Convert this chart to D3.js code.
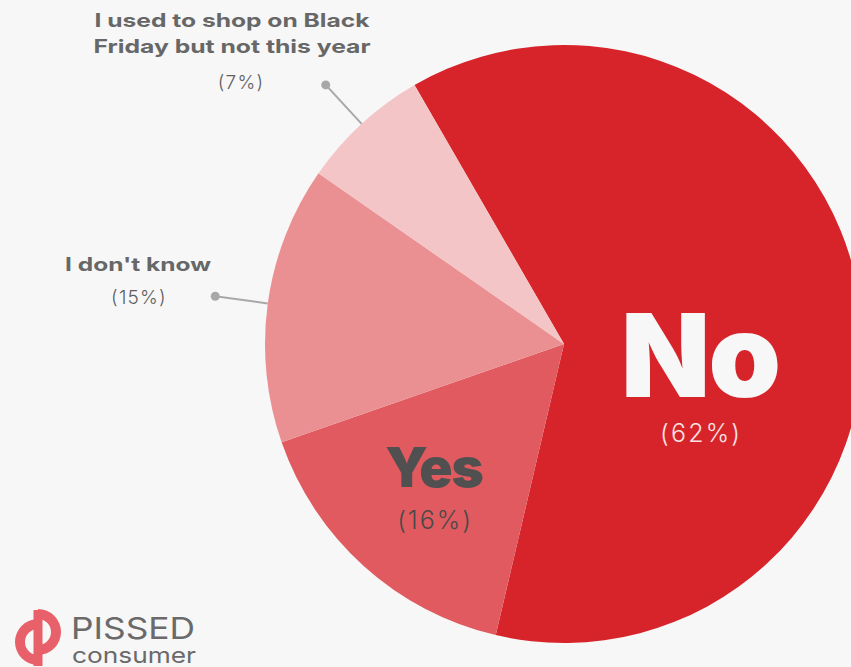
<!DOCTYPE html>
<html>
<head>
<meta charset="utf-8">
<script src="https://cdn.jsdelivr.net/npm/d3@7"></script>
<style>
  html, body { margin: 0; padding: 0; background: #f7f7f7; overflow: hidden; }
  svg { display: block; }
  text { font-family: Inter, "Open Sans", sans-serif; }
</style>
</head>
<body>
<svg id="chart" width="851" height="667"></svg>
<script>
// Survey answers, in drawing order (clockwise from the upper left)
const categories = ["No", "Yes", "I don't know", "I used to shop on Black\nFriday but not this year"];
const values = [62, 16, 15, 7];
const percentLabels = ["(62%)", "(16%)", "(15%)", "(7%)"];
const sliceColors = ["#d7242b", "#e05a5f", "#ea9093", "#f4c5c6"];

const W = 851, H = 667;
const cx = 564, cy = 344, R = 299;

const svg = d3.select("#chart");
svg.append("rect").attr("width", W).attr("height", H).attr("fill", "#f7f7f7");

const start = -30 * Math.PI / 180;
const pie = d3.pie().sort(null).value(d => d)
  .startAngle(start).endAngle(start + 2 * Math.PI);
const arcs = pie(values);
const arc = d3.arc().innerRadius(0).outerRadius(R);

const g = svg.append("g").attr("transform", `translate(${cx},${cy})`);

g.selectAll("path.slice")
  .data(arcs)
  .join("path")
  .attr("class", "slice")
  .attr("d", arc)
  .attr("fill", (d, i) => sliceColors[i]);

// Large labels drawn inside the two biggest slices
const inside = [
  { i: 0, dx: 136, nameY: 53, pctY: 98, nameSize: 116, pctSize: 25, nameColor: "#f7f7f7", pctColor: "#fbe3e3", pctSpacing: 2.2 },
  { i: 1, dx: -130, nameY: 143, pctY: 185, nameSize: 55, pctSize: 25, nameColor: "#505050", pctColor: "#4a4a4a", pctSpacing: 2 }
];
inside.forEach(o => {
  g.append("text")
    .attr("x", o.dx).attr("y", o.nameY)
    .attr("text-anchor", "middle")
    .attr("font-size", o.nameSize)
    .attr("font-weight", 900)
    .attr("letter-spacing", o.i === 0 ? -2 : -1)
    .attr("fill", o.nameColor)
    .text(categories[o.i]);
  g.append("text")
    .attr("x", o.dx + o.pctSpacing / 2).attr("y", o.pctY)
    .attr("text-anchor", "middle")
    .attr("font-size", o.pctSize)
    .attr("font-weight", 300)
    .attr("letter-spacing", o.pctSpacing)
    .attr("fill", o.pctColor)
    .text(percentLabels[o.i]);
});

// Leader lines for the two small slices
const lineOuter = 352;
[2, 3].forEach(i => {
  const a = (arcs[i].startAngle + arcs[i].endAngle) / 2;
  const p0 = [Math.sin(a) * R, -Math.cos(a) * R];
  const p1 = [Math.sin(a) * lineOuter, -Math.cos(a) * lineOuter];
  g.append("line")
    .attr("x1", p0[0]).attr("y1", p0[1])
    .attr("x2", p1[0]).attr("y2", p1[1])
    .attr("stroke", "#a8a8a8").attr("stroke-width", 2);
  g.append("circle")
    .attr("cx", p1[0]).attr("cy", p1[1]).attr("r", 4.5)
    .attr("fill", "#a8a8a8");
});

// Outside labels (absolute positions); widths keep the wide bold face
const outside = [
  { i: 2, x: 138, y: 271, widths: [146], pctX: 139, pctY: 304 },
  { i: 3, x: 232, y: 27, widths: [275, 277], pctX: 241, pctY: 89 }
];
outside.forEach(o => {
  const lines = categories[o.i].split("\n");
  const t = svg.append("text")
    .attr("text-anchor", "middle")
    .attr("font-family", "'DejaVu Sans', sans-serif")
    .attr("font-size", 18.5)
    .attr("font-weight", 700)
    .attr("fill", "#676767");
  lines.forEach((ln, k) => {
    t.append("tspan").attr("x", o.x).attr("y", o.y + k * 26)
      .attr("textLength", o.widths[k]).attr("lengthAdjust", "spacingAndGlyphs")
      .text(ln);
  });
  svg.append("text")
    .attr("x", o.pctX).attr("y", o.pctY)
    .attr("text-anchor", "middle")
    .attr("font-size", 19)
    .attr("font-weight", 300)
    .attr("letter-spacing", 1.2)
    .attr("fill", "#5e5e5e")
    .text(percentLabels[o.i]);
});

// Brand mark, lower left
const logo = svg.append("g").attr("transform", "translate(38,637)");
const ring = d3.arc().innerRadius(13).outerRadius(23);
logo.append("path")
  .attr("d", ring({ startAngle: Math.PI, endAngle: 2 * Math.PI }))
  .attr("transform", "translate(0,5)")
  .attr("fill", "#e8606a");
logo.append("path")
  .attr("d", ring({ startAngle: 0, endAngle: Math.PI }))
  .attr("transform", "translate(0,-5)")
  .attr("fill", "#e8606a");
logo.append("rect")
  .attr("x", -4.5).attr("y", -27).attr("width", 9).attr("height", 56)
  .attr("fill", "#e8606a");

svg.append("text")
  .attr("x", 71).attr("y", 639)
  .attr("font-size", 30).attr("font-weight", 400)
  .attr("textLength", 124).attr("lengthAdjust", "spacingAndGlyphs")
  .attr("fill", "#6a6a6a")
  .text("PISSED");
svg.append("text")
  .attr("x", 72).attr("y", 663)
  .attr("font-size", 22).attr("font-weight", 400)
  .attr("textLength", 124).attr("lengthAdjust", "spacingAndGlyphs")
  .attr("fill", "#6a6a6a")
  .text("consumer");
</script>
</body>
</html>
